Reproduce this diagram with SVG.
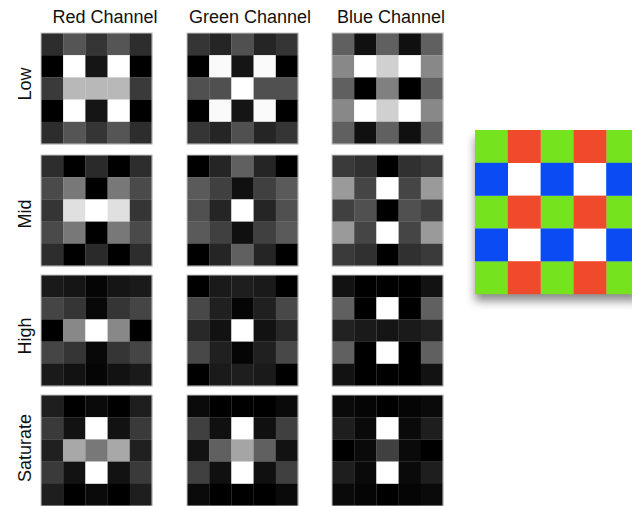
<svg xmlns="http://www.w3.org/2000/svg" width="632" height="506" viewBox="0 0 632 506">
<style>
text{font-family:"Liberation Sans",Arial,sans-serif;font-size:18px;fill:#111}
.h{text-anchor:middle}
.r{text-anchor:middle}
rect.b{fill:none;stroke:#c4c4c4;stroke-width:1}
</style>
<defs>
<filter id="sh" x="-20%" y="-20%" width="140%" height="150%">
<feDropShadow dx="0" dy="7" stdDeviation="5" flood-color="#000" flood-opacity="0.45"/>
</filter>
</defs>
<rect width="632" height="506" fill="#fff"/>
<g id="headers">
<text class="h" x="105" y="23">Red Channel</text>
<text class="h" x="250" y="23">Green Channel</text>
<text class="h" x="391" y="23">Blue Channel</text>
</g>
<g id="rowlabels">
<text class="r" transform="translate(31,84) rotate(-90)">Low</text>
<text class="r" transform="translate(31,214) rotate(-90)">Mid</text>
<text class="r" transform="translate(31,336) rotate(-90)">High</text>
<text class="r" transform="translate(31,448) rotate(-90)">Saturate</text>
</g>

<g id="red-low" transform="translate(41,33)">
<rect x="0" y="0" width="22.4" height="22.4" fill="#2d2d2d"/><rect x="22.2" y="0" width="22.4" height="22.4" fill="#555"/><rect x="44.4" y="0" width="22.4" height="22.4" fill="#353535"/><rect x="66.6" y="0" width="22.4" height="22.4" fill="#555"/><rect x="88.8" y="0" width="22.4" height="22.4" fill="#2d2d2d"/>
<rect x="0" y="22.2" width="22.4" height="22.4" fill="#000"/><rect x="22.2" y="22.2" width="22.4" height="22.4" fill="#fff"/><rect x="44.4" y="22.2" width="22.4" height="22.4" fill="#151515"/><rect x="66.6" y="22.2" width="22.4" height="22.4" fill="#fff"/><rect x="88.8" y="22.2" width="22.4" height="22.4" fill="#000"/>
<rect x="0" y="44.4" width="22.4" height="22.4" fill="#3a3a3a"/><rect x="22.2" y="44.4" width="22.4" height="22.4" fill="#b8b8b8"/><rect x="44.4" y="44.4" width="22.4" height="22.4" fill="#b8b8b8"/><rect x="66.6" y="44.4" width="22.4" height="22.4" fill="#b8b8b8"/><rect x="88.8" y="44.4" width="22.4" height="22.4" fill="#3a3a3a"/>
<rect x="0" y="66.6" width="22.4" height="22.4" fill="#000"/><rect x="22.2" y="66.6" width="22.4" height="22.4" fill="#fff"/><rect x="44.4" y="66.6" width="22.4" height="22.4" fill="#151515"/><rect x="66.6" y="66.6" width="22.4" height="22.4" fill="#fff"/><rect x="88.8" y="66.6" width="22.4" height="22.4" fill="#000"/>
<rect x="0" y="88.8" width="22.4" height="22.4" fill="#2d2d2d"/><rect x="22.2" y="88.8" width="22.4" height="22.4" fill="#555"/><rect x="44.4" y="88.8" width="22.4" height="22.4" fill="#353535"/><rect x="66.6" y="88.8" width="22.4" height="22.4" fill="#555"/><rect x="88.8" y="88.8" width="22.4" height="22.4" fill="#2d2d2d"/>
<rect class="b" x="0" y="0" width="111" height="111"/>
</g>

<g id="green-low" transform="translate(187,33)">
<rect x="0" y="0" width="22.4" height="22.4" fill="#353535"/><rect x="22.2" y="0" width="22.4" height="22.4" fill="#252525"/><rect x="44.4" y="0" width="22.4" height="22.4" fill="#505050"/><rect x="66.6" y="0" width="22.4" height="22.4" fill="#252525"/><rect x="88.8" y="0" width="22.4" height="22.4" fill="#353535"/>
<rect x="0" y="22.2" width="22.4" height="22.4" fill="#000"/><rect x="22.2" y="22.2" width="22.4" height="22.4" fill="#fafafa"/><rect x="44.4" y="22.2" width="22.4" height="22.4" fill="#151515"/><rect x="66.6" y="22.2" width="22.4" height="22.4" fill="#fafafa"/><rect x="88.8" y="22.2" width="22.4" height="22.4" fill="#000"/>
<rect x="0" y="44.4" width="22.4" height="22.4" fill="#505050"/><rect x="22.2" y="44.4" width="22.4" height="22.4" fill="#505050"/><rect x="44.4" y="44.4" width="22.4" height="22.4" fill="#fff"/><rect x="66.6" y="44.4" width="22.4" height="22.4" fill="#505050"/><rect x="88.8" y="44.4" width="22.4" height="22.4" fill="#505050"/>
<rect x="0" y="66.6" width="22.4" height="22.4" fill="#000"/><rect x="22.2" y="66.6" width="22.4" height="22.4" fill="#fafafa"/><rect x="44.4" y="66.6" width="22.4" height="22.4" fill="#151515"/><rect x="66.6" y="66.6" width="22.4" height="22.4" fill="#fafafa"/><rect x="88.8" y="66.6" width="22.4" height="22.4" fill="#000"/>
<rect x="0" y="88.8" width="22.4" height="22.4" fill="#353535"/><rect x="22.2" y="88.8" width="22.4" height="22.4" fill="#252525"/><rect x="44.4" y="88.8" width="22.4" height="22.4" fill="#505050"/><rect x="66.6" y="88.8" width="22.4" height="22.4" fill="#252525"/><rect x="88.8" y="88.8" width="22.4" height="22.4" fill="#353535"/>
<rect class="b" x="0" y="0" width="111" height="111"/>
</g>

<g id="blue-low" transform="translate(332,33)">
<rect x="0" y="0" width="22.4" height="22.4" fill="#606060"/><rect x="22.2" y="0" width="22.4" height="22.4" fill="#101010"/><rect x="44.4" y="0" width="22.4" height="22.4" fill="#606060"/><rect x="66.6" y="0" width="22.4" height="22.4" fill="#101010"/><rect x="88.8" y="0" width="22.4" height="22.4" fill="#606060"/>
<rect x="0" y="22.2" width="22.4" height="22.4" fill="#888"/><rect x="22.2" y="22.2" width="22.4" height="22.4" fill="#fff"/><rect x="44.4" y="22.2" width="22.4" height="22.4" fill="#d0d0d0"/><rect x="66.6" y="22.2" width="22.4" height="22.4" fill="#fff"/><rect x="88.8" y="22.2" width="22.4" height="22.4" fill="#888"/>
<rect x="0" y="44.4" width="22.4" height="22.4" fill="#606060"/><rect x="22.2" y="44.4" width="22.4" height="22.4" fill="#000"/><rect x="44.4" y="44.4" width="22.4" height="22.4" fill="#808080"/><rect x="66.6" y="44.4" width="22.4" height="22.4" fill="#000"/><rect x="88.8" y="44.4" width="22.4" height="22.4" fill="#606060"/>
<rect x="0" y="66.6" width="22.4" height="22.4" fill="#888"/><rect x="22.2" y="66.6" width="22.4" height="22.4" fill="#fff"/><rect x="44.4" y="66.6" width="22.4" height="22.4" fill="#d0d0d0"/><rect x="66.6" y="66.6" width="22.4" height="22.4" fill="#fff"/><rect x="88.8" y="66.6" width="22.4" height="22.4" fill="#888"/>
<rect x="0" y="88.8" width="22.4" height="22.4" fill="#606060"/><rect x="22.2" y="88.8" width="22.4" height="22.4" fill="#101010"/><rect x="44.4" y="88.8" width="22.4" height="22.4" fill="#606060"/><rect x="66.6" y="88.8" width="22.4" height="22.4" fill="#101010"/><rect x="88.8" y="88.8" width="22.4" height="22.4" fill="#606060"/>
<rect class="b" x="0" y="0" width="111" height="111"/>
</g>

<g id="red-mid" transform="translate(41,155)">
<rect x="0" y="0" width="22.4" height="22.4" fill="#2d2d2d"/><rect x="22.2" y="0" width="22.4" height="22.4" fill="#000"/><rect x="44.4" y="0" width="22.4" height="22.4" fill="#2a2a2a"/><rect x="66.6" y="0" width="22.4" height="22.4" fill="#000"/><rect x="88.8" y="0" width="22.4" height="22.4" fill="#2d2d2d"/>
<rect x="0" y="22.2" width="22.4" height="22.4" fill="#4a4a4a"/><rect x="22.2" y="22.2" width="22.4" height="22.4" fill="#787878"/><rect x="44.4" y="22.2" width="22.4" height="22.4" fill="#000"/><rect x="66.6" y="22.2" width="22.4" height="22.4" fill="#787878"/><rect x="88.8" y="22.2" width="22.4" height="22.4" fill="#4a4a4a"/>
<rect x="0" y="44.4" width="22.4" height="22.4" fill="#353535"/><rect x="22.2" y="44.4" width="22.4" height="22.4" fill="#e0e0e0"/><rect x="44.4" y="44.4" width="22.4" height="22.4" fill="#fff"/><rect x="66.6" y="44.4" width="22.4" height="22.4" fill="#e0e0e0"/><rect x="88.8" y="44.4" width="22.4" height="22.4" fill="#353535"/>
<rect x="0" y="66.6" width="22.4" height="22.4" fill="#4a4a4a"/><rect x="22.2" y="66.6" width="22.4" height="22.4" fill="#787878"/><rect x="44.4" y="66.6" width="22.4" height="22.4" fill="#000"/><rect x="66.6" y="66.6" width="22.4" height="22.4" fill="#787878"/><rect x="88.8" y="66.6" width="22.4" height="22.4" fill="#4a4a4a"/>
<rect x="0" y="88.8" width="22.4" height="22.4" fill="#2d2d2d"/><rect x="22.2" y="88.8" width="22.4" height="22.4" fill="#000"/><rect x="44.4" y="88.8" width="22.4" height="22.4" fill="#2a2a2a"/><rect x="66.6" y="88.8" width="22.4" height="22.4" fill="#000"/><rect x="88.8" y="88.8" width="22.4" height="22.4" fill="#2d2d2d"/>
<rect class="b" x="0" y="0" width="111" height="111"/>
</g>

<g id="green-mid" transform="translate(187,155)">
<rect x="0" y="0" width="22.4" height="22.4" fill="#000"/><rect x="22.2" y="0" width="22.4" height="22.4" fill="#252525"/><rect x="44.4" y="0" width="22.4" height="22.4" fill="#606060"/><rect x="66.6" y="0" width="22.4" height="22.4" fill="#252525"/><rect x="88.8" y="0" width="22.4" height="22.4" fill="#000"/>
<rect x="0" y="22.2" width="22.4" height="22.4" fill="#5a5a5a"/><rect x="22.2" y="22.2" width="22.4" height="22.4" fill="#404040"/><rect x="44.4" y="22.2" width="22.4" height="22.4" fill="#101010"/><rect x="66.6" y="22.2" width="22.4" height="22.4" fill="#404040"/><rect x="88.8" y="22.2" width="22.4" height="22.4" fill="#5a5a5a"/>
<rect x="0" y="44.4" width="22.4" height="22.4" fill="#505050"/><rect x="22.2" y="44.4" width="22.4" height="22.4" fill="#252525"/><rect x="44.4" y="44.4" width="22.4" height="22.4" fill="#fff"/><rect x="66.6" y="44.4" width="22.4" height="22.4" fill="#252525"/><rect x="88.8" y="44.4" width="22.4" height="22.4" fill="#505050"/>
<rect x="0" y="66.6" width="22.4" height="22.4" fill="#5a5a5a"/><rect x="22.2" y="66.6" width="22.4" height="22.4" fill="#404040"/><rect x="44.4" y="66.6" width="22.4" height="22.4" fill="#101010"/><rect x="66.6" y="66.6" width="22.4" height="22.4" fill="#404040"/><rect x="88.8" y="66.6" width="22.4" height="22.4" fill="#5a5a5a"/>
<rect x="0" y="88.8" width="22.4" height="22.4" fill="#000"/><rect x="22.2" y="88.8" width="22.4" height="22.4" fill="#252525"/><rect x="44.4" y="88.8" width="22.4" height="22.4" fill="#606060"/><rect x="66.6" y="88.8" width="22.4" height="22.4" fill="#252525"/><rect x="88.8" y="88.8" width="22.4" height="22.4" fill="#000"/>
<rect class="b" x="0" y="0" width="111" height="111"/>
</g>

<g id="blue-mid" transform="translate(332,155)">
<rect x="0" y="0" width="22.4" height="22.4" fill="#3a3a3a"/><rect x="22.2" y="0" width="22.4" height="22.4" fill="#303030"/><rect x="44.4" y="0" width="22.4" height="22.4" fill="#000"/><rect x="66.6" y="0" width="22.4" height="22.4" fill="#303030"/><rect x="88.8" y="0" width="22.4" height="22.4" fill="#3a3a3a"/>
<rect x="0" y="22.2" width="22.4" height="22.4" fill="#9a9a9a"/><rect x="22.2" y="22.2" width="22.4" height="22.4" fill="#454545"/><rect x="44.4" y="22.2" width="22.4" height="22.4" fill="#fff"/><rect x="66.6" y="22.2" width="22.4" height="22.4" fill="#454545"/><rect x="88.8" y="22.2" width="22.4" height="22.4" fill="#9a9a9a"/>
<rect x="0" y="44.4" width="22.4" height="22.4" fill="#404040"/><rect x="22.2" y="44.4" width="22.4" height="22.4" fill="#505050"/><rect x="44.4" y="44.4" width="22.4" height="22.4" fill="#000"/><rect x="66.6" y="44.4" width="22.4" height="22.4" fill="#505050"/><rect x="88.8" y="44.4" width="22.4" height="22.4" fill="#404040"/>
<rect x="0" y="66.6" width="22.4" height="22.4" fill="#9a9a9a"/><rect x="22.2" y="66.6" width="22.4" height="22.4" fill="#454545"/><rect x="44.4" y="66.6" width="22.4" height="22.4" fill="#fff"/><rect x="66.6" y="66.6" width="22.4" height="22.4" fill="#454545"/><rect x="88.8" y="66.6" width="22.4" height="22.4" fill="#9a9a9a"/>
<rect x="0" y="88.8" width="22.4" height="22.4" fill="#3a3a3a"/><rect x="22.2" y="88.8" width="22.4" height="22.4" fill="#303030"/><rect x="44.4" y="88.8" width="22.4" height="22.4" fill="#000"/><rect x="66.6" y="88.8" width="22.4" height="22.4" fill="#303030"/><rect x="88.8" y="88.8" width="22.4" height="22.4" fill="#3a3a3a"/>
<rect class="b" x="0" y="0" width="111" height="111"/>
</g>

<g id="red-high" transform="translate(41,275)">
<rect x="0" y="0" width="22.4" height="22.4" fill="#1a1a1a"/><rect x="22.2" y="0" width="22.4" height="22.4" fill="#151515"/><rect x="44.4" y="0" width="22.4" height="22.4" fill="#050505"/><rect x="66.6" y="0" width="22.4" height="22.4" fill="#151515"/><rect x="88.8" y="0" width="22.4" height="22.4" fill="#1a1a1a"/>
<rect x="0" y="22.2" width="22.4" height="22.4" fill="#454545"/><rect x="22.2" y="22.2" width="22.4" height="22.4" fill="#353535"/><rect x="44.4" y="22.2" width="22.4" height="22.4" fill="#080808"/><rect x="66.6" y="22.2" width="22.4" height="22.4" fill="#353535"/><rect x="88.8" y="22.2" width="22.4" height="22.4" fill="#454545"/>
<rect x="0" y="44.4" width="22.4" height="22.4" fill="#000"/><rect x="22.2" y="44.4" width="22.4" height="22.4" fill="#888"/><rect x="44.4" y="44.4" width="22.4" height="22.4" fill="#fff"/><rect x="66.6" y="44.4" width="22.4" height="22.4" fill="#888"/><rect x="88.8" y="44.4" width="22.4" height="22.4" fill="#000"/>
<rect x="0" y="66.6" width="22.4" height="22.4" fill="#454545"/><rect x="22.2" y="66.6" width="22.4" height="22.4" fill="#353535"/><rect x="44.4" y="66.6" width="22.4" height="22.4" fill="#080808"/><rect x="66.6" y="66.6" width="22.4" height="22.4" fill="#353535"/><rect x="88.8" y="66.6" width="22.4" height="22.4" fill="#454545"/>
<rect x="0" y="88.8" width="22.4" height="22.4" fill="#1a1a1a"/><rect x="22.2" y="88.8" width="22.4" height="22.4" fill="#121212"/><rect x="44.4" y="88.8" width="22.4" height="22.4" fill="#050505"/><rect x="66.6" y="88.8" width="22.4" height="22.4" fill="#121212"/><rect x="88.8" y="88.8" width="22.4" height="22.4" fill="#1a1a1a"/>
<rect class="b" x="0" y="0" width="111" height="111"/>
</g>

<g id="green-high" transform="translate(187,275)">
<rect x="0" y="0" width="22.4" height="22.4" fill="#000"/><rect x="22.2" y="0" width="22.4" height="22.4" fill="#1a1a1a"/><rect x="44.4" y="0" width="22.4" height="22.4" fill="#1e1e1e"/><rect x="66.6" y="0" width="22.4" height="22.4" fill="#1a1a1a"/><rect x="88.8" y="0" width="22.4" height="22.4" fill="#000"/>
<rect x="0" y="22.2" width="22.4" height="22.4" fill="#484848"/><rect x="22.2" y="22.2" width="22.4" height="22.4" fill="#202020"/><rect x="44.4" y="22.2" width="22.4" height="22.4" fill="#050505"/><rect x="66.6" y="22.2" width="22.4" height="22.4" fill="#202020"/><rect x="88.8" y="22.2" width="22.4" height="22.4" fill="#484848"/>
<rect x="0" y="44.4" width="22.4" height="22.4" fill="#282828"/><rect x="22.2" y="44.4" width="22.4" height="22.4" fill="#121212"/><rect x="44.4" y="44.4" width="22.4" height="22.4" fill="#fff"/><rect x="66.6" y="44.4" width="22.4" height="22.4" fill="#121212"/><rect x="88.8" y="44.4" width="22.4" height="22.4" fill="#282828"/>
<rect x="0" y="66.6" width="22.4" height="22.4" fill="#484848"/><rect x="22.2" y="66.6" width="22.4" height="22.4" fill="#202020"/><rect x="44.4" y="66.6" width="22.4" height="22.4" fill="#050505"/><rect x="66.6" y="66.6" width="22.4" height="22.4" fill="#202020"/><rect x="88.8" y="66.6" width="22.4" height="22.4" fill="#484848"/>
<rect x="0" y="88.8" width="22.4" height="22.4" fill="#000"/><rect x="22.2" y="88.8" width="22.4" height="22.4" fill="#1a1a1a"/><rect x="44.4" y="88.8" width="22.4" height="22.4" fill="#1e1e1e"/><rect x="66.6" y="88.8" width="22.4" height="22.4" fill="#1a1a1a"/><rect x="88.8" y="88.8" width="22.4" height="22.4" fill="#000"/>
<rect class="b" x="0" y="0" width="111" height="111"/>
</g>

<g id="blue-high" transform="translate(332,275)">
<rect x="0" y="0" width="22.4" height="22.4" fill="#121212"/><rect x="22.2" y="0" width="22.4" height="22.4" fill="#000"/><rect x="44.4" y="0" width="22.4" height="22.4" fill="#000"/><rect x="66.6" y="0" width="22.4" height="22.4" fill="#000"/><rect x="88.8" y="0" width="22.4" height="22.4" fill="#121212"/>
<rect x="0" y="22.2" width="22.4" height="22.4" fill="#606060"/><rect x="22.2" y="22.2" width="22.4" height="22.4" fill="#000"/><rect x="44.4" y="22.2" width="22.4" height="22.4" fill="#fff"/><rect x="66.6" y="22.2" width="22.4" height="22.4" fill="#000"/><rect x="88.8" y="22.2" width="22.4" height="22.4" fill="#606060"/>
<rect x="0" y="44.4" width="22.4" height="22.4" fill="#222"/><rect x="22.2" y="44.4" width="22.4" height="22.4" fill="#1a1a1a"/><rect x="44.4" y="44.4" width="22.4" height="22.4" fill="#151515"/><rect x="66.6" y="44.4" width="22.4" height="22.4" fill="#1a1a1a"/><rect x="88.8" y="44.4" width="22.4" height="22.4" fill="#222"/>
<rect x="0" y="66.6" width="22.4" height="22.4" fill="#606060"/><rect x="22.2" y="66.6" width="22.4" height="22.4" fill="#000"/><rect x="44.4" y="66.6" width="22.4" height="22.4" fill="#fff"/><rect x="66.6" y="66.6" width="22.4" height="22.4" fill="#000"/><rect x="88.8" y="66.6" width="22.4" height="22.4" fill="#606060"/>
<rect x="0" y="88.8" width="22.4" height="22.4" fill="#121212"/><rect x="22.2" y="88.8" width="22.4" height="22.4" fill="#000"/><rect x="44.4" y="88.8" width="22.4" height="22.4" fill="#000"/><rect x="66.6" y="88.8" width="22.4" height="22.4" fill="#000"/><rect x="88.8" y="88.8" width="22.4" height="22.4" fill="#121212"/>
<rect class="b" x="0" y="0" width="111" height="111"/>
</g>

<g id="red-saturate" transform="translate(41,395)">
<rect x="0" y="0" width="22.4" height="22.4" fill="#1e1e1e"/><rect x="22.2" y="0" width="22.4" height="22.4" fill="#000"/><rect x="44.4" y="0" width="22.4" height="22.4" fill="#0a0a0a"/><rect x="66.6" y="0" width="22.4" height="22.4" fill="#000"/><rect x="88.8" y="0" width="22.4" height="22.4" fill="#1e1e1e"/>
<rect x="0" y="22.2" width="22.4" height="22.4" fill="#3a3a3a"/><rect x="22.2" y="22.2" width="22.4" height="22.4" fill="#121212"/><rect x="44.4" y="22.2" width="22.4" height="22.4" fill="#fff"/><rect x="66.6" y="22.2" width="22.4" height="22.4" fill="#121212"/><rect x="88.8" y="22.2" width="22.4" height="22.4" fill="#3a3a3a"/>
<rect x="0" y="44.4" width="22.4" height="22.4" fill="#202020"/><rect x="22.2" y="44.4" width="22.4" height="22.4" fill="#a8a8a8"/><rect x="44.4" y="44.4" width="22.4" height="22.4" fill="#787878"/><rect x="66.6" y="44.4" width="22.4" height="22.4" fill="#a8a8a8"/><rect x="88.8" y="44.4" width="22.4" height="22.4" fill="#202020"/>
<rect x="0" y="66.6" width="22.4" height="22.4" fill="#3a3a3a"/><rect x="22.2" y="66.6" width="22.4" height="22.4" fill="#121212"/><rect x="44.4" y="66.6" width="22.4" height="22.4" fill="#fff"/><rect x="66.6" y="66.6" width="22.4" height="22.4" fill="#121212"/><rect x="88.8" y="66.6" width="22.4" height="22.4" fill="#3a3a3a"/>
<rect x="0" y="88.8" width="22.4" height="22.4" fill="#1e1e1e"/><rect x="22.2" y="88.8" width="22.4" height="22.4" fill="#000"/><rect x="44.4" y="88.8" width="22.4" height="22.4" fill="#0a0a0a"/><rect x="66.6" y="88.8" width="22.4" height="22.4" fill="#000"/><rect x="88.8" y="88.8" width="22.4" height="22.4" fill="#1e1e1e"/>
<rect class="b" x="0" y="0" width="111" height="111"/>
</g>

<g id="green-saturate" transform="translate(187,395)">
<rect x="0" y="0" width="22.4" height="22.4" fill="#0a0a0a"/><rect x="22.2" y="0" width="22.4" height="22.4" fill="#000"/><rect x="44.4" y="0" width="22.4" height="22.4" fill="#000"/><rect x="66.6" y="0" width="22.4" height="22.4" fill="#000"/><rect x="88.8" y="0" width="22.4" height="22.4" fill="#0a0a0a"/>
<rect x="0" y="22.2" width="22.4" height="22.4" fill="#404040"/><rect x="22.2" y="22.2" width="22.4" height="22.4" fill="#101010"/><rect x="44.4" y="22.2" width="22.4" height="22.4" fill="#fff"/><rect x="66.6" y="22.2" width="22.4" height="22.4" fill="#101010"/><rect x="88.8" y="22.2" width="22.4" height="22.4" fill="#404040"/>
<rect x="0" y="44.4" width="22.4" height="22.4" fill="#121212"/><rect x="22.2" y="44.4" width="22.4" height="22.4" fill="#606060"/><rect x="44.4" y="44.4" width="22.4" height="22.4" fill="#a5a5a5"/><rect x="66.6" y="44.4" width="22.4" height="22.4" fill="#606060"/><rect x="88.8" y="44.4" width="22.4" height="22.4" fill="#121212"/>
<rect x="0" y="66.6" width="22.4" height="22.4" fill="#404040"/><rect x="22.2" y="66.6" width="22.4" height="22.4" fill="#101010"/><rect x="44.4" y="66.6" width="22.4" height="22.4" fill="#fff"/><rect x="66.6" y="66.6" width="22.4" height="22.4" fill="#101010"/><rect x="88.8" y="66.6" width="22.4" height="22.4" fill="#404040"/>
<rect x="0" y="88.8" width="22.4" height="22.4" fill="#0a0a0a"/><rect x="22.2" y="88.8" width="22.4" height="22.4" fill="#000"/><rect x="44.4" y="88.8" width="22.4" height="22.4" fill="#000"/><rect x="66.6" y="88.8" width="22.4" height="22.4" fill="#000"/><rect x="88.8" y="88.8" width="22.4" height="22.4" fill="#0a0a0a"/>
<rect class="b" x="0" y="0" width="111" height="111"/>
</g>

<g id="blue-saturate" transform="translate(332,395)">
<rect x="0" y="0" width="22.4" height="22.4" fill="#0a0a0a"/><rect x="22.2" y="0" width="22.4" height="22.4" fill="#050505"/><rect x="44.4" y="0" width="22.4" height="22.4" fill="#000"/><rect x="66.6" y="0" width="22.4" height="22.4" fill="#050505"/><rect x="88.8" y="0" width="22.4" height="22.4" fill="#0a0a0a"/>
<rect x="0" y="22.2" width="22.4" height="22.4" fill="#1e1e1e"/><rect x="22.2" y="22.2" width="22.4" height="22.4" fill="#0a0a0a"/><rect x="44.4" y="22.2" width="22.4" height="22.4" fill="#fff"/><rect x="66.6" y="22.2" width="22.4" height="22.4" fill="#0a0a0a"/><rect x="88.8" y="22.2" width="22.4" height="22.4" fill="#1e1e1e"/>
<rect x="0" y="44.4" width="22.4" height="22.4" fill="#000"/><rect x="22.2" y="44.4" width="22.4" height="22.4" fill="#0a0a0a"/><rect x="44.4" y="44.4" width="22.4" height="22.4" fill="#404040"/><rect x="66.6" y="44.4" width="22.4" height="22.4" fill="#0a0a0a"/><rect x="88.8" y="44.4" width="22.4" height="22.4" fill="#000"/>
<rect x="0" y="66.6" width="22.4" height="22.4" fill="#1e1e1e"/><rect x="22.2" y="66.6" width="22.4" height="22.4" fill="#0a0a0a"/><rect x="44.4" y="66.6" width="22.4" height="22.4" fill="#fff"/><rect x="66.6" y="66.6" width="22.4" height="22.4" fill="#0a0a0a"/><rect x="88.8" y="66.6" width="22.4" height="22.4" fill="#1e1e1e"/>
<rect x="0" y="88.8" width="22.4" height="22.4" fill="#0a0a0a"/><rect x="22.2" y="88.8" width="22.4" height="22.4" fill="#050505"/><rect x="44.4" y="88.8" width="22.4" height="22.4" fill="#000"/><rect x="66.6" y="88.8" width="22.4" height="22.4" fill="#050505"/><rect x="88.8" y="88.8" width="22.4" height="22.4" fill="#0a0a0a"/>
<rect class="b" x="0" y="0" width="111" height="111"/>
</g>

<g id="bayer-pattern" transform="translate(475,130)">
<rect x="0" y="0" width="164" height="164" fill="#fff" filter="url(#sh)"/>
<g fill="#76e31f">
<rect x="0" y="0" width="33" height="33"/><rect x="65.6" y="0" width="33" height="33"/><rect x="131.2" y="0" width="33" height="33"/>
<rect x="0" y="65.6" width="33" height="33"/><rect x="65.6" y="65.6" width="33" height="33"/><rect x="131.2" y="65.6" width="33" height="33"/>
<rect x="0" y="131.2" width="33" height="33"/><rect x="65.6" y="131.2" width="33" height="33"/><rect x="131.2" y="131.2" width="33" height="33"/>
</g>
<g fill="#ee4a2b">
<rect x="32.8" y="0" width="33" height="33"/><rect x="98.4" y="0" width="33" height="33"/>
<rect x="32.8" y="65.6" width="33" height="33"/><rect x="98.4" y="65.6" width="33" height="33"/>
<rect x="32.8" y="131.2" width="33" height="33"/><rect x="98.4" y="131.2" width="33" height="33"/>
</g>
<g fill="#0b4bf3">
<rect x="0" y="32.8" width="33" height="33"/><rect x="65.6" y="32.8" width="33" height="33"/><rect x="131.2" y="32.8" width="33" height="33"/>
<rect x="0" y="98.4" width="33" height="33"/><rect x="65.6" y="98.4" width="33" height="33"/><rect x="131.2" y="98.4" width="33" height="33"/>
</g>
</g>
</svg>
